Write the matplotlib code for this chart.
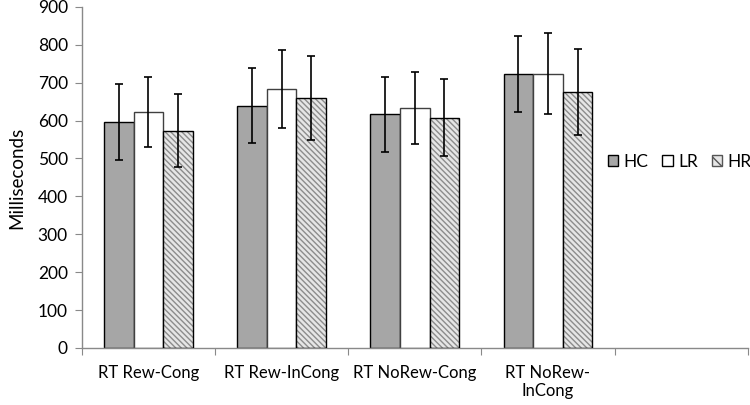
import numpy as np
import matplotlib as mpl
import matplotlib.pyplot as plt

mpl.use('Agg')

# -------------------------------------------------------------------------
categories = ["RT Rew-Cong", "RT Rew-InCong", "RT NoRew-Cong", "RT NoRew-\nInCong", ""]
series = ["HC", "LR", "HR"]

hc_vals = [597, 639, 617, 722]
lr_vals = [623, 683, 633, 724]
hr_vals = [573, 660, 608, 676]

hc_err = [100, 99, 99, 100]
lr_err = [93, 102, 95, 107]
hr_err = [96, 111, 102, 114]

y_ticks = [0, 100, 200, 300, 400, 500, 600, 700, 800, 900]
# -------------------------------------------------------------------------

plt.rcParams['font.family'] = ['Lato', 'DejaVu Sans']

fig = plt.figure(figsize=(7.5, 4.05), dpi=100)
ax = fig.add_axes([0.109, 0.141, 0.888, 0.842])

x = np.arange(len(hc_vals))
w = 0.222
axis_grey = '#898989'
hatch = '\\\\\\\\\\\\'

# HC: grey fill
ax.bar(x - w, hc_vals, w, color='#a6a6a6', edgecolor='black', linewidth=1.0, zorder=2)
# LR: white fill
ax.bar(x, lr_vals, w, color='white', edgecolor='#404040', linewidth=1.0, zorder=2)
# HR: hatched fill, drawn twice so the hatch can be grey and the edge black
ax.bar(x + w, hr_vals, w, color='#e6e6e6', edgecolor='#8c8c8c', linewidth=0,
       hatch=hatch, zorder=2)
ax.bar(x + w, hr_vals, w, color='none', edgecolor='black', linewidth=1.0, zorder=3)

for offs, vals, errs in [(-w, hc_vals, hc_err), (0, lr_vals, lr_err), (w, hr_vals, hr_err)]:
    ax.errorbar(x + offs, vals, yerr=errs, fmt='none', ecolor='black',
                elinewidth=1.2, capsize=3, capthick=1.2, zorder=4)

ax.set_xlim(-0.5, len(categories) - 0.5)
ax.set_ylim(0, 900)
ax.set_yticks(y_ticks)
ax.tick_params(axis='y', labelsize=12.5, length=5, color=axis_grey, pad=5)

ax.set_xticks(np.arange(len(categories) + 1) - 0.5)
ax.set_xticklabels([])
ax.tick_params(axis='x', which='major', length=5, color=axis_grey)
ax.set_xticks(np.arange(len(categories)), minor=True)
ax.set_xticklabels(categories, minor=True, fontsize=12)
ax.tick_params(axis='x', which='minor', length=0, pad=12)

for s in ['top', 'right']:
    ax.spines[s].set_visible(False)
for s in ['left', 'bottom']:
    ax.spines[s].set_color(axis_grey)
    ax.spines[s].set_linewidth(1.0)

ax.set_ylabel('Milliseconds', fontsize=13.5, labelpad=9)

hc_h = mpl.patches.Patch(facecolor='#a6a6a6', edgecolor='black', linewidth=1.0)
lr_h = mpl.patches.Patch(facecolor='white', edgecolor='black', linewidth=1.0)
hr_h = mpl.patches.Patch(facecolor='#e6e6e6', edgecolor='#555555', hatch='\\\\\\',
                         linewidth=1.0)
ax.legend([hc_h, lr_h, hr_h], series, ncol=3, frameon=False,
          loc='center left', bbox_to_anchor=(0.79, 0.545),
          borderaxespad=0, borderpad=0,
          handlelength=0.6, handleheight=0.6, handletextpad=0.3,
          columnspacing=0.8, fontsize=12.5)

plt.savefig('out.png', dpi=100)
plt.close(fig)
